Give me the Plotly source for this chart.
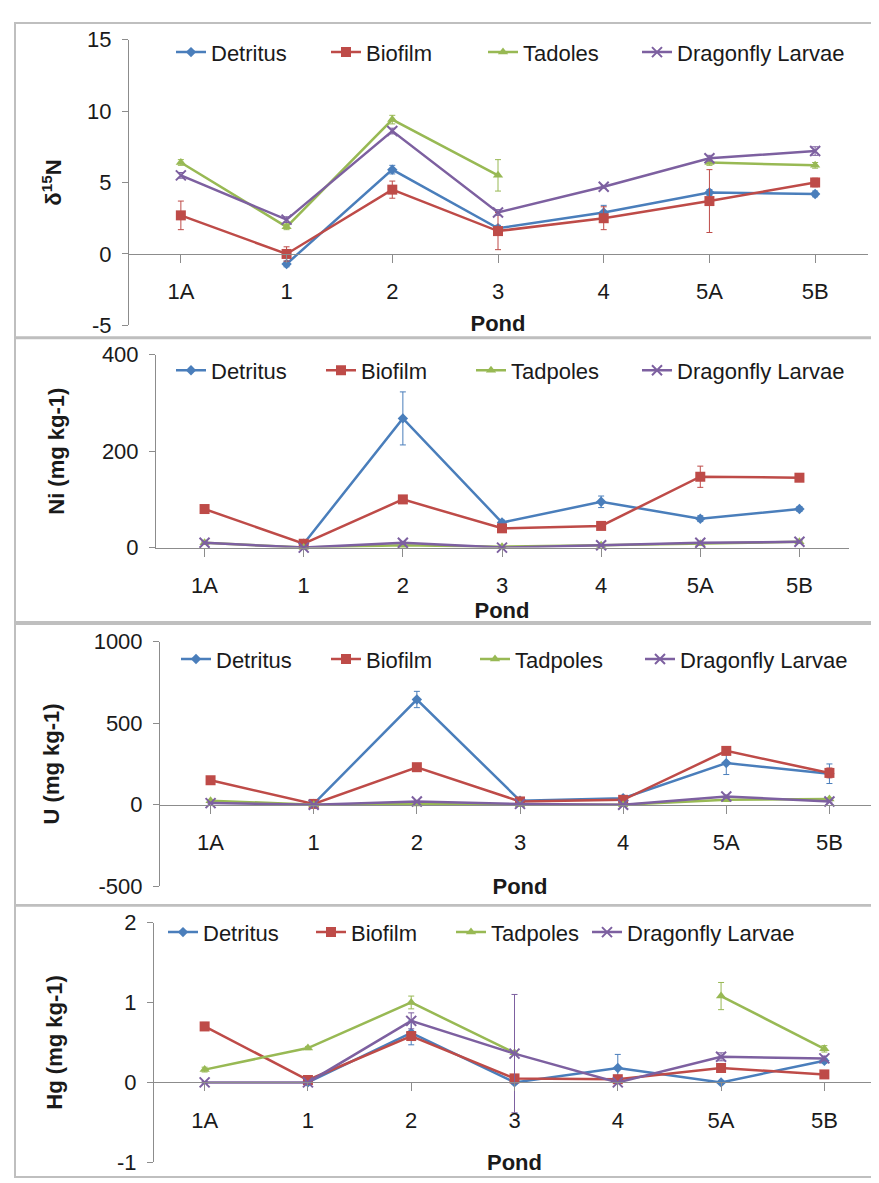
import plotly.graph_objects as go

W, H = 879, 1183

ponds = ["1A", "1", "2", "3", "4", "5A", "5B"]
series_names = ["Detritus", "Biofilm", "Tadpoles", "Dragonfly Larvae"]
series_names_p1 = ["Detritus", "Biofilm", "Tadoles", "Dragonfly Larvae"]

# δ15N
n15_detritus = [None, -0.7, 5.9, 1.8, 2.9, 4.3, 4.2]
n15_biofilm = [2.7, 0.0, 4.5, 1.6, 2.5, 3.7, 5.0]
n15_tadpoles = [6.4, 1.9, 9.4, 5.5, None, 6.4, 6.2]
n15_dragonfly = [5.5, 2.4, 8.6, 2.9, 4.7, 6.7, 7.2]
n15_err_detritus = [0, 0.2, 0.3, 0.2, 0.5, 0.2, 0.2]
n15_err_biofilm = [1.0, 0.5, 0.6, 1.3, 0.8, 2.2, 0.3]
n15_err_tadpoles = [0.2, 0.2, 0.3, 1.1, 0, 0.2, 0.2]
n15_err_dragonfly = [0.2, 0.2, 0.2, 0.2, 0.1, 0.2, 0.3]

# Ni
ni_detritus = [None, 8, 268, 52, 95, 60, 80]
ni_biofilm = [80, 8, 100, 40, 45, 147, 145]
ni_tadpoles = [10, 0, 5, 2, 5, 8, 12]
ni_dragonfly = [10, 0, 10, 0, 5, 10, 12]
ni_err_detritus = [0, 3, 55, 5, 12, 6, 5]
ni_err_biofilm = [5, 3, 6, 4, 4, 22, 5]
ni_err_tadpoles = [2, 1, 2, 1, 1, 2, 2]
ni_err_dragonfly = [2, 1, 3, 1, 1, 2, 2]

# U
u_detritus = [None, 5, 645, 25, 40, 255, 190]
u_biofilm = [150, 5, 230, 20, 30, 330, 195]
u_tadpoles = [25, 0, 5, 0, 0, 30, 35]
u_dragonfly = [10, 0, 20, 5, 0, 50, 20]
u_err_detritus = [0, 3, 50, 5, 8, 70, 60]
u_err_biofilm = [12, 3, 15, 4, 5, 15, 30]
u_err_tadpoles = [4, 1, 2, 1, 1, 5, 5]
u_err_dragonfly = [3, 1, 5, 2, 1, 10, 5]

# Hg
hg_detritus = [None, 0.0, 0.62, 0.0, 0.18, 0.0, 0.27]
hg_biofilm = [0.70, 0.03, 0.58, 0.05, 0.04, 0.18, 0.10]
hg_tadpoles = [0.16, 0.43, 1.0, 0.37, None, 1.08, 0.42]
hg_dragonfly = [0.0, 0.0, 0.77, 0.36, 0.0, 0.32, 0.30]
hg_err_detritus = [0, 0.01, 0.15, 0.02, 0.17, 0.01, 0.03]
hg_err_biofilm = [0.05, 0.02, 0.05, 0.02, 0.02, 0.03, 0.02]
hg_err_tadpoles = [0.03, 0.02, 0.08, 0.02, 0, 0.17, 0.04]
hg_err_dragonfly = [0.01, 0.01, 0.1, 0.74, 0.01, 0.05, 0.03]

# y tick labels (hyphen minus as in the original)
n15_ticks = [-5, 0, 5, 10, 15]
n15_ticktext = ["-5", "0", "5", "10", "15"]
ni_ticks = [0, 200, 400]
ni_ticktext = ["0", "200", "400"]
u_ticks = [-500, 0, 500, 1000]
u_ticktext = ["-500", "0", "500", "1000"]
hg_ticks = [-1, 0, 1, 2]
hg_ticktext = ["-1", "0", "1", "2"]

colors = ["#4A7EBB", "#BE4B48", "#98B954", "#7D60A0"]
symbols = ["diamond", "square", "triangle-up", "x-thin-open"]
msizes = [8, 10, 9, 10]

FONT = "Liberation Sans, Arial, sans-serif"
AXC = "#8C8C8C"
TXT = "#1a1a1a"

panels = [
    dict(vals=[n15_detritus, n15_biofilm, n15_tadpoles, n15_dragonfly],
         errs=[n15_err_detritus, n15_err_biofilm, n15_err_tadpoles, n15_err_dragonfly],
         names=series_names_p1, yrange=[-5, 15], tv=n15_ticks, tt=n15_ticktext,
         title="<b>δ<sup>15</sup>N</b>",
         px=(120, 860), py=(20, 312), legy=33, legx=[190, 345, 502, 656],
         ttl_standoff=18, pond_standoff=12),
    dict(vals=[ni_detritus, ni_biofilm, ni_tadpoles, ni_dragonfly],
         errs=[ni_err_detritus, ni_err_biofilm, ni_err_tadpoles, ni_err_dragonfly],
         names=series_names, yrange=[0, 400], tv=ni_ticks, tt=ni_ticktext,
         title="<b>Ni (mg kg-1)</b>",
         px=(147, 841), py=(342, 539), legy=358, legx=[190, 340, 490, 656],
         ttl_standoff=30, pond_standoff=0),
    dict(vals=[u_detritus, u_biofilm, u_tadpoles, u_dragonfly],
         errs=[u_err_detritus, u_err_biofilm, u_err_tadpoles, u_err_dragonfly],
         names=series_names, yrange=[-500, 1000], tv=u_ticks, tt=u_ticktext,
         title="<b>U (mg kg-1)</b>",
         px=(151, 873), py=(635, 885), legy=653, legx=[195, 345, 494, 659],
         ttl_standoff=26, pond_standoff=24),
    dict(vals=[hg_detritus, hg_biofilm, hg_tadpoles, hg_dragonfly],
         errs=[hg_err_detritus, hg_err_biofilm, hg_err_tadpoles, hg_err_dragonfly],
         names=series_names, yrange=[-1, 2], tv=hg_ticks, tt=hg_ticktext,
         title="<b>Hg (mg kg-1)</b>",
         px=(145, 868), py=(922, 1167), legy=932, legx=[182, 330, 470, 606],
         ttl_standoff=47, pond_standoff=22),
]

fig = go.Figure()
xidx = list(range(len(ponds)))
legend_count = 0

for i, p in enumerate(panels):
    k = "" if i == 0 else str(i + 1)
    xa, ya = "x" + k, "y" + k
    for s in range(4):
        legend_count += 1
        legname = "legend" if legend_count == 1 else "legend" + str(legend_count)
        fig.add_trace(go.Scatter(
            x=xidx, y=p["vals"][s], mode="lines+markers", name=p["names"][s],
            xaxis=xa, yaxis=ya, legend=legname, cliponaxis=False,
            line=dict(color=colors[s], width=2.5),
            marker=dict(symbol=symbols[s], size=msizes[s], color=colors[s],
                        line=dict(color=colors[s], width=2 if s == 3 else 0)),
            error_y=dict(type="data", array=p["errs"][s], visible=True,
                         color=colors[s], thickness=1, width=3),
        ))
        fig.layout[legname] = dict(
            orientation="h", x=(p["legx"][s] - 27) / W, y=1 - p["legy"] / H,
            xanchor="left", yanchor="middle", bgcolor="rgba(0,0,0,0)",
            font=dict(family=FONT, size=22, color=TXT),
            itemwidth=30, tracegroupgap=0,
        )
    ymin, ymax = p["yrange"]
    d0 = 1 - p["py"][1] / H
    d1 = 1 - p["py"][0] / H
    zero_pos = d0 + (0 - ymin) / (ymax - ymin) * (d1 - d0)
    xkey = "xaxis" + k
    ykey = "yaxis" + k
    fig.layout[xkey] = dict(
        domain=[p["px"][0] / W, p["px"][1] / W], anchor="free", position=zero_pos,
        range=[-0.5, 6.5], tickvals=xidx, ticktext=ponds, tickson="boundaries",
        showline=True, linecolor=AXC, linewidth=1, ticks="outside", ticklen=8,
        tickcolor=AXC, showgrid=False, zeroline=False,
        tickfont=dict(family=FONT, size=22, color=TXT),
        ticklabelstandoff=10,
        title=dict(text="<b>Pond</b>", font=dict(family=FONT, size=22, color=TXT),
                   standoff=p["pond_standoff"]),
    )
    fig.layout[ykey] = dict(
        domain=[d0, d1], anchor="free", position=p["px"][0] / W,
        range=p["yrange"], tickvals=p["tv"], ticktext=p["tt"],
        showline=True, linecolor=AXC, linewidth=1,
        ticks="outside", ticklen=6, tickcolor=AXC, showgrid=False, zeroline=False,
        tickfont=dict(family=FONT, size=22, color=TXT),
        ticklabelstandoff=6,
        title=dict(text=p["title"], font=dict(family=FONT, size=22, color=TXT),
                   standoff=p["ttl_standoff"]),
    )

# panel frames
shapes = []
for y0, y1 in [(3, 324), (325, 615), (617, 904), (905, 1182)]:
    shapes.append(dict(type="rect", xref="paper", yref="paper",
                       x0=7 / W, x1=1.01, y0=1 - y1 / H, y1=1 - y0 / H,
                       line=dict(color="#BFBFBF", width=2)))

fig.update_layout(
    width=W, height=H, margin=dict(l=0, r=0, t=0, b=0),
    paper_bgcolor="white", plot_bgcolor="white", shapes=shapes,
    showlegend=True,
)

fig.write_html("out.html")
